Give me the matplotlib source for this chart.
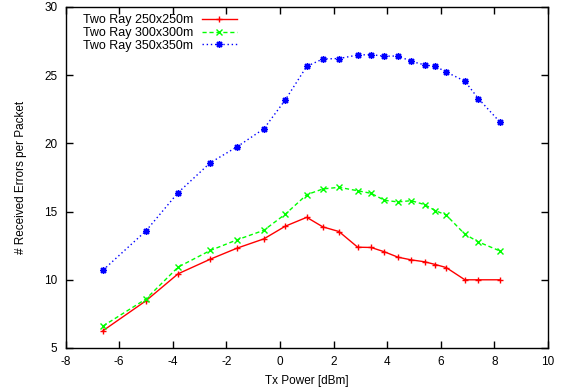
import matplotlib
matplotlib.use("Agg")
import matplotlib.pyplot as plt

plt.rcParams['font.family'] = ['Liberation Sans', 'DejaVu Sans']
plt.rcParams['axes.unicode_minus'] = False

tx_power = [-6.6, -5.0, -3.8, -2.6, -1.6, -0.6, 0.2, 1.0, 1.6, 2.2, 2.9,
            3.4, 3.9, 4.4, 4.9, 5.4, 5.8, 6.2, 6.9, 7.4, 8.2]
ray_250 = [6.27, 8.46, 10.44, 11.51, 12.32, 13.0, 13.93, 14.58, 13.88, 13.54, 12.39,
           12.37, 12.05, 11.66, 11.46, 11.32, 11.12, 10.90, 10.0, 10.0, 10.0]
ray_300 = [6.61, 8.59, 10.93, 12.15, 12.93, 13.63, 14.81, 16.24, 16.66, 16.78, 16.53,
           16.34, 15.83, 15.71, 15.80, 15.51, 15.07, 14.75, 13.34, 12.78, 12.12]
ray_350 = [10.71, 13.58, 16.39, 18.58, 19.75, 21.07, 23.19, 25.65, 26.19, 26.22, 26.48,
           26.51, 26.39, 26.41, 26.02, 25.75, 25.65, 25.24, 24.56, 23.29, 21.58]
labels = ["Two Ray 250x250m", "Two Ray 300x300m", "Two Ray 350x350m"]

fig = plt.figure(figsize=(5.62, 3.92), dpi=100)
ax = fig.add_axes([65.5/562, 1-348/392, (548-65.5)/562, (348-7)/392])

ax.plot(tx_power, ray_250, color='#ff0000', linestyle='-', linewidth=1.0,
        marker='+', markersize=5, markeredgewidth=1.0, label=labels[0])
ax.plot(tx_power, ray_300, color='#00ff00', linestyle=(0, (3, 2)), linewidth=1.0,
        marker='x', markersize=4.5, markeredgewidth=1.0, label=labels[1])
ax.plot(tx_power, ray_350, color='#0000ff', linestyle=(0, (1, 2)), linewidth=1.0,
        marker=(8, 2, 0), markersize=5, markeredgewidth=1.0, label=labels[2])

ax.set_xlim(-8, 10)
ax.set_ylim(5, 30)
ax.set_xticks(range(-8, 11, 2))
ax.set_yticks(range(5, 31, 5))
ax.tick_params(direction='in', top=True, right=True, length=5, width=1,
               labelsize=8.5, pad=6, colors='black')
for s in ax.spines.values():
    s.set_linewidth(1.0)
ax.set_xlabel("Tx Power [dBm]", fontsize=8.5, labelpad=5)
ax.set_ylabel("# Received Errors per Packet", fontsize=8.5, labelpad=12)

leg = ax.legend(loc='upper left', bbox_to_anchor=(0.02, 1.0), frameon=False,
                markerfirst=False, fontsize=9, handlelength=2.8,
                labelspacing=0.05, handletextpad=0.7, borderaxespad=0.2)

fig.savefig("out.png", dpi=100)
